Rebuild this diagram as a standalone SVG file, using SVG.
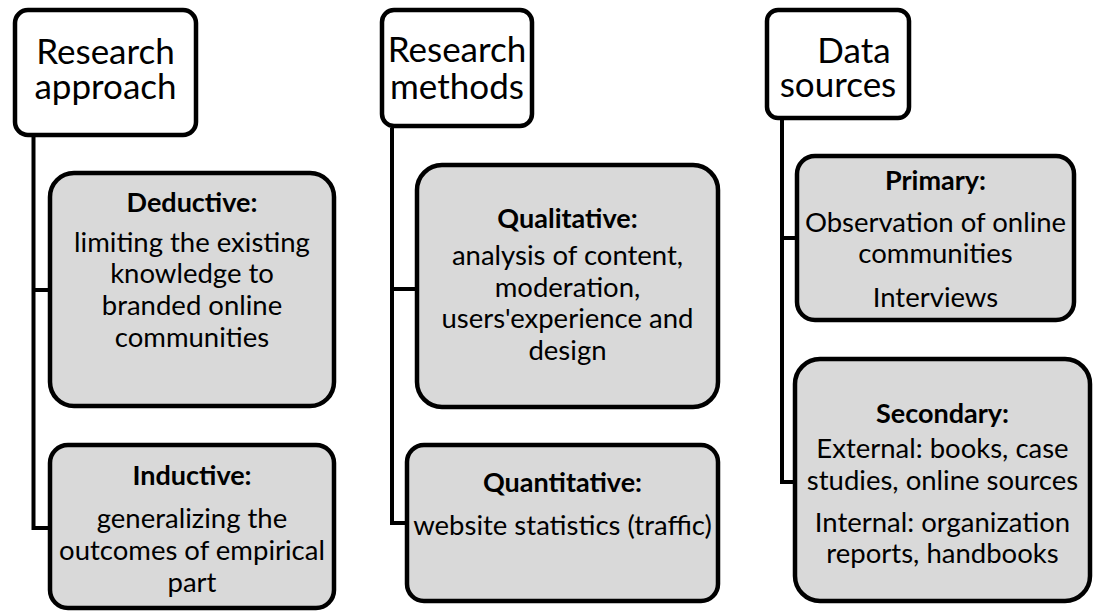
<svg xmlns="http://www.w3.org/2000/svg" width="1093" height="612" viewBox="0 0 1093 612">
  <style>
    .head { fill: #ffffff; stroke: #000000; stroke-width: 4.5; }
    .item { fill: #d9d9d9; stroke: #000000; stroke-width: 4.5; }
    .link { fill: none; stroke: #000000; stroke-width: 4; stroke-linejoin: miter; }
    text { font-family: Lato, "Open Sans", "Liberation Sans", sans-serif; fill: #000000; text-anchor: middle; }
    .ht { font-size: 35px; }
    .bt { font-size: 27.5px; }
    .bb { font-size: 27px; font-weight: bold; }
  </style>
  <rect width="1093" height="612" fill="#ffffff"/>

  <!-- connectors: each column has a spine with a branch into every child -->
  <g id="connectors">
    <path class="link" d="M33.5 137 V528 H50 M33.5 290 H50"/>
    <path class="link" d="M392 128 V523 H407 M392 289 H417"/>
    <path class="link" d="M782 120 V482 H795 M782 238 H797"/>
  </g>

  <!-- column 1 -->
  <g id="research-approach">
    <rect class="head" x="15" y="10" width="181" height="125" rx="13"/>
    <text class="ht" x="105.5" y="64">Research</text>
    <text class="ht" x="105.5" y="99">approach</text>
  </g>
  <g id="deductive">
    <rect class="item" x="50" y="173" width="284" height="233" rx="24"/>
    <text class="bb" x="192" y="212">Deductive:</text>
    <text class="bt" x="192" y="252">limiting the existing</text>
    <text class="bt" x="192" y="283">knowledge to</text>
    <text class="bt" x="192" y="315">branded online</text>
    <text class="bt" x="192" y="347">communities</text>
  </g>
  <g id="inductive">
    <rect class="item" x="50" y="445" width="284" height="163" rx="18"/>
    <text class="bb" x="192" y="485">Inductive:</text>
    <text class="bt" x="192" y="528">generalizing the</text>
    <text class="bt" x="192" y="560">outcomes of empirical</text>
    <text class="bt" x="192" y="592">part</text>
  </g>

  <!-- column 2 -->
  <g id="research-methods">
    <rect class="head" x="382" y="10" width="150" height="116" rx="12"/>
    <text class="ht" x="457" y="62">Research</text>
    <text class="ht" x="457" y="99">methods</text>
  </g>
  <g id="qualitative">
    <rect class="item" x="417" y="165" width="301" height="242" rx="25"/>
    <text class="bb" x="567.5" y="228">Qualitative:</text>
    <text class="bt" x="567.5" y="265">analysis of content,</text>
    <text class="bt" x="567.5" y="297">moderation,</text>
    <text class="bt" x="567.5" y="328">users'experience and</text>
    <text class="bt" x="567.5" y="360">design</text>
  </g>
  <g id="quantitative">
    <rect class="item" x="407" y="445" width="311" height="156" rx="17"/>
    <text class="bb" x="562.5" y="492">Quantitative:</text>
    <text class="bt" x="562.5" y="535">website statistics (traffic)</text>
  </g>

  <!-- column 3 -->
  <g id="data-sources">
    <rect class="head" x="767" y="10" width="142" height="108" rx="11"/>
    <text class="ht" x="854" y="63">Data</text>
    <text class="ht" x="838" y="97">sources</text>
  </g>
  <g id="primary">
    <rect class="item" x="797" y="156" width="277" height="164" rx="18"/>
    <text class="bb" x="935.5" y="190">Primary:</text>
    <text class="bt" x="935.5" y="232">Observation of online</text>
    <text class="bt" x="935.5" y="263">communities</text>
    <text class="bt" x="935.5" y="307">Interviews</text>
  </g>
  <g id="secondary">
    <rect class="item" x="795" y="359" width="295" height="242" rx="25"/>
    <text class="bb" x="942.5" y="423">Secondary:</text>
    <text class="bt" x="942.5" y="458">External: books, case</text>
    <text class="bt" x="942.5" y="490">studies, online sources</text>
    <text class="bt" x="942.5" y="532">Internal: organization</text>
    <text class="bt" x="942.5" y="563">reports, handbooks</text>
  </g>
</svg>
